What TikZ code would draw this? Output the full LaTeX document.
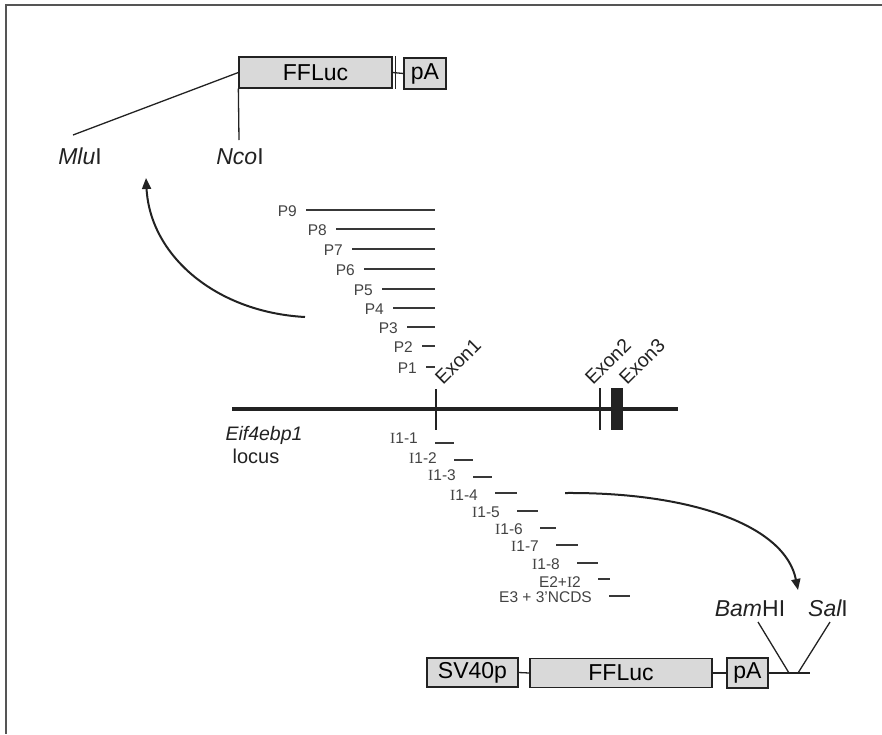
\documentclass[tikz,border=0pt]{standalone}
\usepackage{fontspec}
\setmainfont{Liberation Sans}
\newfontfamily\serifI{Liberation Serif}
\usetikzlibrary{arrows.meta}
\definecolor{boxgray}{HTML}{D9D9D9}
\definecolor{ink}{HTML}{222222}
\definecolor{frame}{HTML}{555555}
\tikzset{
  gbox/.style={draw=ink, line width=1.3pt, fill=boxgray, inner sep=0pt, font=\fontsize{23}{23}\selectfont},
  conn/.style={draw=ink, line width=1.3pt},
  frag/.style={draw=ink!90, line width=2.2pt},
  plab/.style={font=\fontsize{15.5}{15.5}\selectfont, text=ink!85, anchor=east, inner sep=0pt},
  ilab/.style={font=\fontsize{15.5}{15.5}\selectfont, text=ink!85, anchor=east, inner sep=0pt},
  bigital/.style={font=\fontsize{23}{23}\selectfont, text=ink, inner sep=0pt},
  exonlab/.style={font=\fontsize{19.5}{19.5}\selectfont, text=ink, rotate=45, anchor=base west, inner sep=0pt},
  curvarrow/.style={draw=ink, line width=2pt, -{Triangle[length=11pt,width=9pt]}},
}
\begin{document}
\begin{tikzpicture}[x=1pt,y=-1pt]
\useasboundingbox (0,0) rectangle (882,734);
% frame (top and left edges)
\coordinate (fTL) at (6,5);
\coordinate (fTR) at (882,5);
\coordinate (fBL) at (6,734);
\draw[frame, line width=2.5pt] (fTR) -- (fTL) -- (fBL);

% top construct
\node[gbox, minimum width=153pt, minimum height=31pt] (fflucT) at (315.5,72.5) {FFLuc};
\node[gbox, minimum width=42pt, minimum height=31pt] (paT) at (425,73.5) {pA};
\draw[conn] (fflucT.east) -- (paT.west);
\draw[conn] ([xshift=3pt]fflucT.north east) -- ([xshift=3pt]fflucT.south east);
\coordinate (mluEnd) at (73,135);
\coordinate (ncoEnd) at (239,140);
\draw[conn] (fflucT.west) -- (mluEnd);
\draw[conn] (fflucT.south west) -- (ncoEnd);
\node[bigital, anchor=base] (mlu) at (80,164) {\itshape Mlu\upshape I};
\node[bigital, anchor=base] (nco) at (240,164) {\itshape Nco\upshape I};

% promoter fragments
\foreach \n/\xl/\y in {9/306/210, 8/336/229, 7/352/249, 6/364/269, 5/382/289, 4/393/308, 3/407/327, 2/422/346, 1/426/367}{
  \coordinate (p\n a) at (\xl,\y);
  \coordinate (p\n b) at (435,\y);
  \draw[frag] (p\n a) -- (p\n b);
  \node[plab] (pl\n) at ([xshift=-9pt,yshift=-1pt]p\n a) {P\n};
}

% curved arrow to top construct
\coordinate (arrAstart) at (305,317);
\coordinate (arrAend) at (146,178);
\draw[curvarrow] (arrAstart) .. controls (215,312) and (150,255) .. (arrAend);

% locus
\coordinate (locL) at (232,409);
\coordinate (locR) at (678,409);
\draw[ink, line width=4pt] (locL) -- (locR);
\coordinate (ex1t) at (436,389);
\coordinate (ex1b) at (436,430);
\draw[ink, line width=1.5pt] (ex1t) -- (ex1b);
\coordinate (ex2t) at (600,388);
\coordinate (ex2b) at (600,430);
\draw[ink, line width=1.3pt] (ex2t) -- (ex2b);
\node[fill=ink, inner sep=0pt, minimum width=12pt, minimum height=42pt] (ex3) at (617,409) {};
\node[exonlab] (ex1lab) at (443,386) {Exon1};
\node[exonlab] (ex2lab) at (593,386) {Exon2};
\node[exonlab] (ex3lab) at (627,386) {Exon3};
\node[font=\fontsize{19.5}{19.5}\selectfont\itshape, text=ink, inner sep=0pt] (eif) at (264,435) {Eif4ebp1};
\node[font=\fontsize{20}{20}\selectfont, text=ink, inner sep=0pt] (locus) at (256,456) {locus};

% intronic fragments
\foreach \k/\lab/\xa/\xb/\y/\ly in {
  1/{{\serifI I}1-1}/435/454/443/438,
  2/{{\serifI I}1-2}/454/473/460/458,
  3/{{\serifI I}1-3}/473/492/477/475,
  4/{{\serifI I}1-4}/495/517/493/495,
  5/{{\serifI I}1-5}/517/538/511/512,
  6/{{\serifI I}1-6}/540/556/528/529,
  7/{{\serifI I}1-7}/556/578/545/546,
  8/{{\serifI I}1-8}/577/598/563/564,
  9/{E2+{\serifI I}2}/598/610/579/582,
  10/{E3 + 3'NCDS}/609/630/596/597}{
  \coordinate (i\k a) at (\xa,\y);
  \coordinate (i\k b) at (\xb,\y);
  \draw[frag] (i\k a) -- (i\k b);
  \coordinate (il\k pos) at (\xa,\ly);
  \node[ilab] (il\k) at ([xshift=-17pt]il\k pos) {\lab};
}

% curved arrow to bottom construct
\coordinate (arrBstart) at (565,493);
\coordinate (arrBend) at (798,590);
\draw[curvarrow] (arrBstart) .. controls (690,492) and (785,525) .. (arrBend);

% bottom construct
\node[gbox, minimum width=91pt, minimum height=29pt] (sv40) at (472.5,672.5) {SV40p};
\node[gbox, minimum width=182pt, minimum height=29pt] (fflucB) at (621,673) {FFLuc};
\node[gbox, minimum width=41pt, minimum height=30pt] (paB) at (747.5,673) {pA};
\draw[conn] (sv40.east) -- (fflucB.west);
\draw[conn] (fflucB.east) -- (paB.west);
\coordinate (endB) at (810,673);
\draw[conn] (paB.east) -- (endB);
\coordinate (bamTop) at (758,622);
\coordinate (bamBot) at (789,673);
\coordinate (salTop) at (830,622);
\coordinate (salBot) at (798,673);
\draw[conn] (bamTop) -- (bamBot);
\draw[conn] (salTop) -- (salBot);
\node[bigital, anchor=base] (bam) at (750,616) {\itshape Bam\upshape HI};
\node[bigital, anchor=base] (sal) at (828,616) {\itshape Sal\upshape I};
\end{tikzpicture}
\end{document}
